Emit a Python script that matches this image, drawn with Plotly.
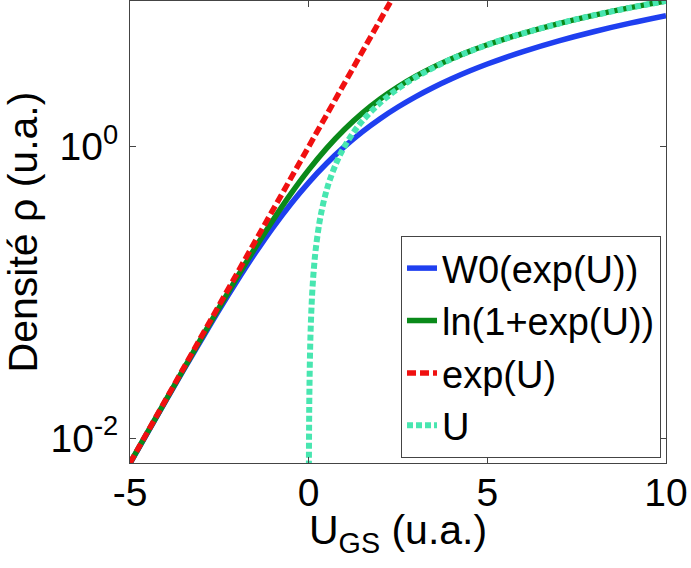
import plotly.graph_objects as go

# x grid (U_GS, u.a.)
u_grid = [-5, -4.5, -4, -3.5, -3, -2.5, -2, -1.5, -1, -0.5, 0, 0.5, 1, 1.5, 2, 2.5,
          3, 3.5, 4, 4.5, 5, 5.5, 6, 7, 8, 9, 10]

# W0(exp(U))
w0_vals = [0.00669, 0.01099, 0.01799, 0.02933, 0.0474, 0.0761, 0.1200, 0.1854, 0.2785,
           0.4046, 0.5671, 0.7662, 1.0, 1.265, 1.557, 1.8725, 2.208, 2.56, 2.926, 3.305,
           3.693, 4.091, 4.497, 5.327, 6.179, 7.047, 7.929]

# ln(1+exp(U))
ln_vals = [0.00672, 0.01105, 0.0181, 0.02975, 0.0486, 0.0789, 0.127, 0.2014, 0.313,
           0.4741, 0.693, 0.9741, 1.313, 1.7014, 2.127, 2.5789, 3.049, 3.5297, 4.018,
           4.5111, 5.007, 5.5041, 6.002, 7.001, 8.0, 9.0, 10.0]

# exp(U)
exp_u = [-5, -4.5, -4, -3.5, -3, -2.5, -2, -1.5, -1, -0.5, 0, 0.5, 1, 1.5, 2, 2.5]
exp_vals = [0.00674, 0.0111, 0.0183, 0.0302, 0.0498, 0.0821, 0.135, 0.223, 0.368,
            0.607, 1.0, 1.65, 2.72, 4.48, 7.39, 12.18]

# U
lin_u = [0.001, 0.005, 0.01, 0.02, 0.05, 0.1, 0.15, 0.2, 0.3, 0.4, 0.5, 0.6, 0.8, 1,
         1.25, 1.5, 2, 2.5, 3, 4, 5, 6, 7, 8, 9, 10]
lin_vals = [0.001, 0.005, 0.01, 0.02, 0.05, 0.1, 0.15, 0.2, 0.3, 0.4, 0.5, 0.6, 0.8, 1,
            1.25, 1.5, 2, 2.5, 3, 4, 5, 6, 7, 8, 9, 10]

names = ["W0(exp(U))", "ln(1+exp(U))", "exp(U)", "U"]
colors = ["#1f3ff0", "#0a8a1a", "#f01010", "#48e6b0"]

x_ticks = [-5, 0, 5, 10]
y_ticks = [0.01, 1]
y_ticktext = ["10<sup>-2</sup>", "10<sup>0</sup>"]
x_title = "U<sub>GS</sub> (u.a.)"
y_title = "Densité ρ (u.a.)"

fig = go.Figure()
fig.add_trace(go.Scatter(x=u_grid, y=w0_vals, mode="lines", name=names[0],
                         line=dict(color=colors[0], width=5.5, shape="spline")))
fig.add_trace(go.Scatter(x=u_grid, y=ln_vals, mode="lines", name=names[1],
                         line=dict(color=colors[1], width=5.5, shape="spline")))
fig.add_trace(go.Scatter(x=exp_u, y=exp_vals, mode="lines", name=names[2],
                         line=dict(color=colors[2], width=5.5, dash="9px,4px")))
fig.add_trace(go.Scatter(x=lin_u, y=lin_vals, mode="lines", name=names[3],
                         line=dict(color=colors[3], width=6, dash="6px,3px", shape="spline")))

axis_common = dict(showline=True, mirror="ticks", linecolor="#444444", linewidth=1,
                   ticks="inside", ticklen=6, tickcolor="#444444", showgrid=False,
                   zeroline=False, automargin=False,
                   tickfont=dict(size=39, color="black"))

fig.update_xaxes(range=[-5, 10], tickvals=x_ticks, ticktext=[str(t) for t in x_ticks],
                 ticklabelstandoff=-5, **axis_common)
fig.update_yaxes(type="log", range=[-2.1715, 1], tickvals=y_ticks, ticktext=y_ticktext,
                 ticklabelstandoff=3,
                 title=dict(text=y_title, font=dict(size=41, color="black"), standoff=2),
                 **axis_common)

fig.add_annotation(text=x_title, xref="paper", yref="paper", x=0.5, y=-42 / 462,
                   xanchor="center", yanchor="top", showarrow=False,
                   font=dict(size=41, color="black"))

fig.update_layout(
    width=691, height=568,
    margin=dict(l=130, r=25, t=1, b=105),
    paper_bgcolor="white", plot_bgcolor="white",
    font=dict(family="Liberation Sans, Arial, sans-serif", color="black"),
    legend=dict(x=0.9907, y=0.011, xanchor="right", yanchor="bottom",
                bgcolor="white", bordercolor="#444444", borderwidth=1,
                font=dict(size=38, color="black"), itemwidth=30,
                tracegroupgap=0),
    showlegend=True,
)

fig.write_html("out.html", config={"displayModeBar": False},
               post_script="document.body.style.margin='0';document.body.style.overflow='hidden';")
